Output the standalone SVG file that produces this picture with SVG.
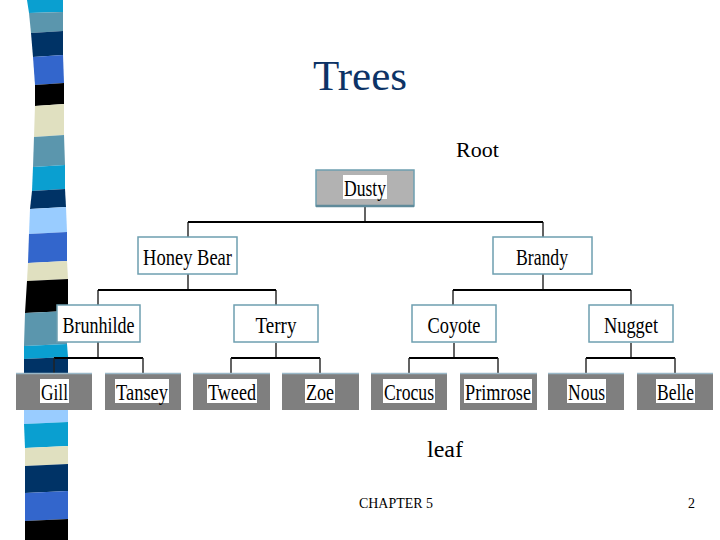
<svg xmlns="http://www.w3.org/2000/svg" width="720" height="540" viewBox="0 0 720 540">
<style>
.lbl{font-family:"Liberation Serif","Times New Roman",serif;font-size:24px;fill:#000;text-anchor:middle}
.wn{fill:#fff;stroke:#6e9fb0;stroke-width:1.5}
.gn{fill:#7f7f7f}
.gtop{stroke:#9ab8c8;stroke-width:1.5}
.lbg{fill:#fff}
.h{stroke:#000;stroke-width:2;fill:none}
.v{stroke:#222;stroke-width:1.4;fill:none}
</style>
<rect width="720" height="540" fill="#fff"/>
<g id="strip">
<path d="M27 0 H63 V12 L29 13 Z" fill="#0a9fd0"/>
<path d="M29 13 L63 12 V31 L31 33 Z" fill="#5b96ad"/>
<path d="M31 33 L63 31 V55 L33 57 Z" fill="#003366"/>
<path d="M33 57 L63 55 L64 83 L35 85 Z" fill="#3366cc"/>
<path d="M35 85 L64 83 V104 L35 106 Z" fill="#000"/>
<path d="M35 106 L64 104 V135 L34 137 Z" fill="#e0e0c0"/>
<path d="M34 137 L64 135 L65 165 L33 167 Z" fill="#5b96ad"/>
<path d="M33 167 L65 165 V189 L32 191 Z" fill="#0a9fd0"/>
<path d="M32 191 L65 189 L66 207 L30 209 Z" fill="#003366"/>
<path d="M30 209 L66 207 L67 232 L29 234 Z" fill="#99ccff"/>
<path d="M29 234 L67 232 V261 L28 263 Z" fill="#3366cc"/>
<path d="M28 263 L67 261 L68 279 L27 281 Z" fill="#e0e0c0"/>
<path d="M27 281 L68 279 V311 L25 313 Z" fill="#000"/>
<path d="M25 313 L68 311 L67 344 L24 346 Z" fill="#5b96ad"/>
<path d="M24 346 L67 344 L68 357 L24 359 Z" fill="#0a9fd0"/>
<path d="M24 359 L68 357 V390 L24 392 Z" fill="#003366"/>
<path d="M24 392 L68 390 V422 L24 424 Z" fill="#99ccff"/>
<path d="M24 424 L68 422 V446 L25 448 Z" fill="#0a9fd0"/>
<path d="M25 448 L68 446 V464 L25 466 Z" fill="#e0e0c0"/>
<path d="M25 466 L68 464 V491 L25 493 Z" fill="#003366"/>
<path d="M25 493 L68 491 V519 L25 521 Z" fill="#3366cc"/>
<path d="M25 521 L68 519 V540 H25 Z" fill="#000"/>
</g>
<text x="360" y="90" font-family="Liberation Serif, serif" font-size="43" fill="#0d3366" text-anchor="middle">Trees</text>
<text x="456" y="157" font-family="Liberation Serif, serif" font-size="22" fill="#000">Root</text>
<text x="427" y="457" font-family="Liberation Serif, serif" font-size="24" fill="#000">leaf</text>
<text x="359" y="508" font-family="Liberation Serif, serif" font-size="14" fill="#000" textLength="74" lengthAdjust="spacingAndGlyphs">CHAPTER 5</text>
<text x="688" y="508" font-family="Liberation Serif, serif" font-size="14" fill="#000">2</text>
<g id="connectors">
<path class="v" d="M365 207 V222 M188 222 V237 M543 222 V237"/>
<path class="h" d="M188 222 H543"/>
<path class="v" d="M188 274 V290 M98 290 V305 M276 290 V305"/>
<path class="h" d="M98 290 H276"/>
<path class="v" d="M543 274 V290 M453 290 V305 M631 290 V305"/>
<path class="h" d="M453 290 H631"/>
<path class="v" d="M98 342 V358 M276 343 V358 M454 343 V358 M631 343 V358"/>
<path class="h" d="M54 358 H143 M231 358 H320 M409 358 H498 M586 358 H675"/>
<path class="v" d="M54 358 V373 M143 358 V373 M231 358 V373 M320 358 V373 M409 358 V373 M498 358 V373 M586 358 V373 M675 358 V373"/>
</g>
<g id="dusty">
<rect x="316" y="170" width="98" height="36" fill="#b2b2b2" stroke="#6e9fb0" stroke-width="1.5"/>
<line x1="316" y1="206" x2="414" y2="206" stroke="#5f8a9a" stroke-width="2.5"/>
<rect class="lbg" x="343" y="175" width="44" height="24"/>
<text class="lbl" x="365" y="196" textLength="42" lengthAdjust="spacingAndGlyphs">Dusty</text>
</g>
<g id="honeybear">
<rect class="wn" x="138" y="237" width="99" height="37"/>
<text class="lbl" x="187.5" y="265" textLength="89" lengthAdjust="spacingAndGlyphs">Honey Bear</text>
</g>
<g id="brandy">
<rect class="wn" x="493" y="237" width="99" height="37"/>
<text class="lbl" x="542" y="265" textLength="52" lengthAdjust="spacingAndGlyphs">Brandy</text>
</g>
<g id="brunhilde">
<rect class="wn" x="57" y="305" width="83" height="37"/>
<text class="lbl" x="98.5" y="333" textLength="72" lengthAdjust="spacingAndGlyphs">Brunhilde</text>
</g>
<g id="terry">
<rect class="wn" x="234" y="305" width="84" height="37"/>
<text class="lbl" x="276" y="333" textLength="41" lengthAdjust="spacingAndGlyphs">Terry</text>
</g>
<g id="coyote">
<rect class="wn" x="412" y="305" width="84" height="37"/>
<text class="lbl" x="454" y="333" textLength="53" lengthAdjust="spacingAndGlyphs">Coyote</text>
</g>
<g id="nugget">
<rect class="wn" x="589" y="305" width="84" height="37"/>
<text class="lbl" x="631" y="333" textLength="54" lengthAdjust="spacingAndGlyphs">Nugget</text>
</g>
<g id="gill">
<rect class="gn" x="16" y="373" width="76" height="37"/>
<line class="gtop" x1="16" y1="373.5" x2="92" y2="373.5"/>
<rect class="lbg" x="40" y="379" width="29" height="24"/>
<text class="lbl" x="54.5" y="400" textLength="27" lengthAdjust="spacingAndGlyphs">Gill</text>
</g>
<g id="tansey">
<rect class="gn" x="105" y="373" width="76" height="37"/>
<line class="gtop" x1="105" y1="373.5" x2="181" y2="373.5"/>
<rect class="lbg" x="115" y="379" width="54" height="24"/>
<text class="lbl" x="142" y="400" textLength="52" lengthAdjust="spacingAndGlyphs">Tansey</text>
</g>
<g id="tweed">
<rect class="gn" x="193" y="373" width="77" height="37"/>
<line class="gtop" x1="193" y1="373.5" x2="270" y2="373.5"/>
<rect class="lbg" x="207" y="379" width="50" height="24"/>
<text class="lbl" x="232" y="400" textLength="48" lengthAdjust="spacingAndGlyphs">Tweed</text>
</g>
<g id="zoe">
<rect class="gn" x="282" y="373" width="77" height="37"/>
<line class="gtop" x1="282" y1="373.5" x2="359" y2="373.5"/>
<rect class="lbg" x="305" y="379" width="30" height="24"/>
<text class="lbl" x="320" y="400" textLength="28" lengthAdjust="spacingAndGlyphs">Zoe</text>
</g>
<g id="crocus">
<rect class="gn" x="371" y="373" width="76" height="37"/>
<line class="gtop" x1="371" y1="373.5" x2="447" y2="373.5"/>
<rect class="lbg" x="383" y="379" width="52" height="24"/>
<text class="lbl" x="409" y="400" textLength="50" lengthAdjust="spacingAndGlyphs">Crocus</text>
</g>
<g id="primrose">
<rect class="gn" x="460" y="373" width="77" height="37"/>
<line class="gtop" x1="460" y1="373.5" x2="537" y2="373.5"/>
<rect class="lbg" x="464" y="379" width="68" height="24"/>
<text class="lbl" x="498" y="400" textLength="66" lengthAdjust="spacingAndGlyphs">Primrose</text>
</g>
<g id="nous">
<rect class="gn" x="548" y="373" width="76" height="37"/>
<line class="gtop" x1="548" y1="373.5" x2="624" y2="373.5"/>
<rect class="lbg" x="567" y="379" width="39" height="24"/>
<text class="lbl" x="586.5" y="400" textLength="37" lengthAdjust="spacingAndGlyphs">Nous</text>
</g>
<g id="belle">
<rect class="gn" x="637" y="373" width="76" height="37"/>
<line class="gtop" x1="637" y1="373.5" x2="713" y2="373.5"/>
<rect class="lbg" x="656" y="379" width="39" height="24"/>
<text class="lbl" x="675.5" y="400" textLength="37" lengthAdjust="spacingAndGlyphs">Belle</text>
</g>
</svg>
